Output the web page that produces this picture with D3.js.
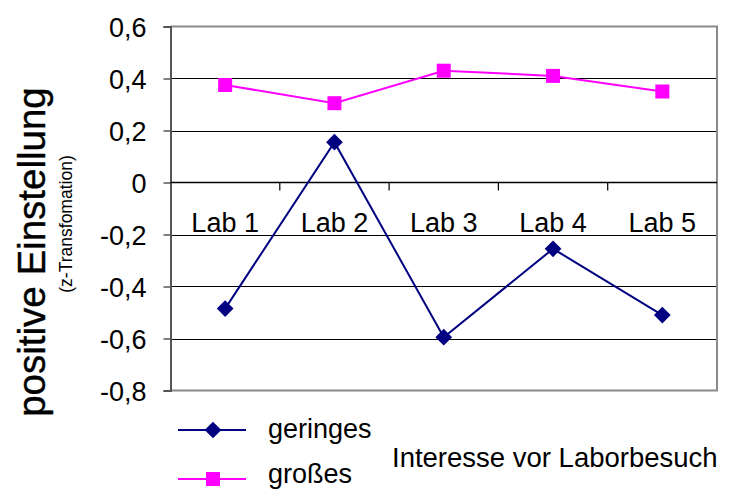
<!DOCTYPE html>
<html>
<head>
<meta charset="utf-8">
<script src="https://cdn.jsdelivr.net/npm/d3@7/dist/d3.min.js"></script>
<style>
  html, body { margin: 0; padding: 0; background: #fff; }
  svg { display: block; font-family: "Liberation Sans", Arial, sans-serif; }
</style>
</head>
<body>
<svg id="chart" width="729" height="492"></svg>
<script>
const categories = ["Lab 1", "Lab 2", "Lab 3", "Lab 4", "Lab 5"];
const geringes = [-0.485, 0.155, -0.595, -0.255, -0.51];
const grosses = [0.375, 0.305, 0.43, 0.41, 0.35];
const yTicks = [0.6, 0.4, 0.2, 0, -0.2, -0.4, -0.6, -0.8];
const seriesNames = ["geringes", "großes"];
const legendTitle = "Interesse vor Laborbesuch";
const yTitle = "positive Einstellung";
const ySubtitle = "(z-Transfomation)";

const svg = d3.select("#chart");
const L = 170.5, R = 717, T = 26.5, B = 390.5;

const x = d3.scaleBand().domain(categories).range([L, R]);
const y = d3.scaleLinear().domain([-0.8, 0.6]).range([B, T]);
const fmt = d => d === 0 ? "0" : d3.format(".1f")(d).replace(".", ",").replace("−", "-");

// gridlines
svg.append("g").selectAll("line")
  .data(yTicks.filter(d => d !== 0.6 && d !== -0.8 && d !== 0))
  .join("line")
  .attr("x1", L).attr("x2", R)
  .attr("y1", d => Math.round(y(d)) + 0.5).attr("y2", d => Math.round(y(d)) + 0.5)
  .attr("stroke", "#000").attr("stroke-width", 1.2);

// plot border (top, right, bottom)
svg.append("path")
  .attr("d", `M${L},${T}H${R}V${B}H${L}`)
  .attr("fill", "none").attr("stroke", "#8a8a8a").attr("stroke-width", 2);

// y axis
const yAxis = d3.axisLeft(y).tickValues(yTicks).tickFormat(fmt).tickSize(7).tickPadding(17);
const gy = svg.append("g").attr("transform", `translate(${L},0)`).call(yAxis);
gy.select(".domain").attr("stroke", "#555").attr("stroke-width", 2);
gy.selectAll(".tick line").attr("stroke", "#555").attr("stroke-width", 1.5);
gy.selectAll(".tick text").attr("font-size", 27).attr("fill", "#000")
  .attr("font-family", "Liberation Sans, Arial, sans-serif").attr("dy", "0.36em");

// x axis at zero
const y0 = Math.round(y(0)) + 0.5;
svg.append("line").attr("x1", L).attr("x2", R).attr("y1", y0).attr("y2", y0)
  .attr("stroke", "#000").attr("stroke-width", 1.5);
svg.append("g").selectAll("line")
  .data(categories.slice(1))
  .join("line")
  .attr("x1", d => x(d)).attr("x2", d => x(d))
  .attr("y1", y0).attr("y2", y0 + 8)
  .attr("stroke", "#000").attr("stroke-width", 1.2);
svg.append("g").selectAll("text")
  .data(categories)
  .join("text")
  .attr("x", d => x(d) + x.bandwidth() / 2)
  .attr("y", 232)
  .attr("text-anchor", "middle")
  .attr("font-size", 27)
  .text(d => d);

// series
const line = d3.line().x((d, i) => x(categories[i]) + x.bandwidth() / 2).y(d => y(d));
svg.append("path").datum(grosses).attr("d", line)
  .attr("fill", "none").attr("stroke", "#ff00ff").attr("stroke-width", 2);
svg.append("path").datum(geringes).attr("d", line)
  .attr("fill", "none").attr("stroke", "#000080").attr("stroke-width", 2);

const sq = d3.symbol().type(d3.symbolSquare).size(196);
const dia = d3.symbol().type(d3.symbolSquare).size(140);
svg.append("g").selectAll("path").data(grosses).join("path")
  .attr("d", sq)
  .attr("transform", (d, i) => `translate(${x(categories[i]) + x.bandwidth() / 2},${y(d)})`)
  .attr("fill", "#ff00ff");
svg.append("g").selectAll("path").data(geringes).join("path")
  .attr("d", dia)
  .attr("transform", (d, i) => `translate(${x(categories[i]) + x.bandwidth() / 2},${y(d)}) rotate(45)`)
  .attr("fill", "#000080");

// y titles
svg.append("text")
  .attr("transform", "translate(45,252) rotate(-90)")
  .attr("text-anchor", "middle").attr("font-size", 38.5)
  .attr("stroke", "#000").attr("stroke-width", 0.4)
  .text(yTitle);
svg.append("text")
  .attr("transform", "translate(72,224) rotate(-90)")
  .attr("text-anchor", "middle").attr("font-size", 17.5)
  .text(ySubtitle);

// legend
const legendColors = ["#000080", "#ff00ff"];
const legendY = [430, 479];
const textY = [438, 483];
seriesNames.forEach((name, i) => {
  svg.append("line").attr("x1", 178).attr("x2", 246)
    .attr("y1", legendY[i]).attr("y2", legendY[i])
    .attr("stroke", legendColors[i]).attr("stroke-width", 2);
  svg.append("path")
    .attr("d", i === 0 ? dia : sq)
    .attr("transform", `translate(213,${legendY[i]})` + (i === 0 ? " rotate(45)" : ""))
    .attr("fill", legendColors[i]);
  svg.append("text").attr("x", 268).attr("y", textY[i])
    .attr("font-size", 27).text(name);
});
svg.append("text").attr("x", 392).attr("y", 467).attr("font-size", 27.5).text(legendTitle);
</script>
</body>
</html>
